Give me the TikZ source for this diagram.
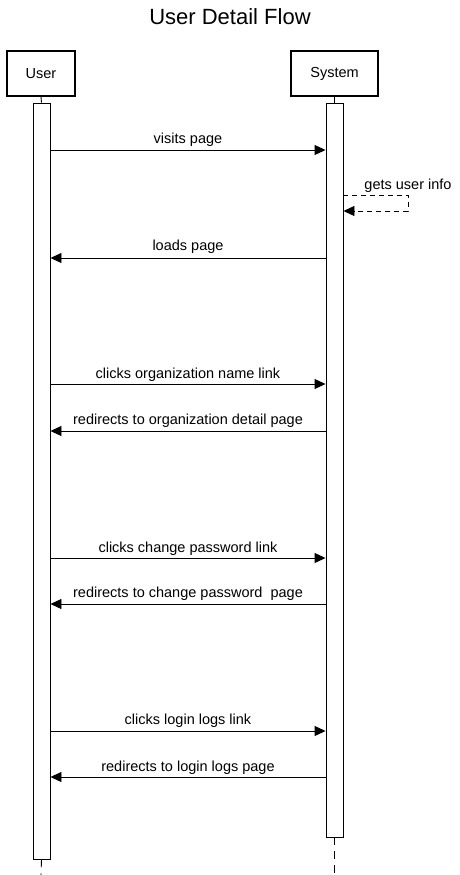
\documentclass[tikz,border=0pt]{standalone}
\usepackage{fontspec}
\setmainfont{Liberation Sans}
\usetikzlibrary{arrows.meta}
\begin{document}
\begin{tikzpicture}[x=1pt,y=-1pt,
  actor/.style={draw, line width=2pt, minimum height=45pt, inner sep=0pt, font=\fontsize{14.5}{17}\selectfont},
  act/.style={draw, line width=0.9pt, fill=white, minimum width=17pt, inner sep=0pt},
  msg/.style={line width=0.9pt, -{Triangle[length=11pt,width=10pt]}},
  rmsg/.style={msg, dash pattern=on 5pt off 4pt},
  lbl/.style={font=\fontsize{14.5}{17}\selectfont, inner sep=0pt, yshift=-2pt},
  life/.style={line width=0.9pt},
  dlife/.style={line width=0.9pt, dash pattern=on 8pt off 6pt}]
\useasboundingbox (0,0) rectangle (460,875);
\node[font=\fontsize{22}{26}\selectfont] (title) at (230,17) {User Detail Flow};
\node[actor, minimum width=68pt] (ubox) at (41,73.5) {\raisebox{-1.5pt}{User}};
\node[actor, minimum width=87pt] (sbox) at (334.5,73.5) {\raisebox{-1.5pt}{System}};
\coordinate (uend) at (41,875);
\coordinate (send) at (334.5,875);
\node[act, minimum height=756pt] (uact) at (41.5,481) {};
\node[act, minimum height=734pt] (sact) at (334.5,470) {};
\draw[life] (ubox.south) -- (uact.north);
\draw[life] (sbox.south) -- (sact.north);
\draw[dlife] (uact.south) -- (uend);
\draw[dlife] (sact.south) -- (send);
% messages
\draw[msg] (uact.east |- 0,150) -- (sact.west |- 0,150);
\node[lbl] (m1) at (188,138) {visits page};
\draw[rmsg] (sact.east |- 0,195) -- ++(65,0) -- ++(0,16) -- (sact.east |- 0,211);
\node[lbl] (m2) at (408,184) {gets user info};
\draw[msg] (sact.west |- 0,258) -- (uact.east |- 0,258);
\node[lbl] (m3) at (188,245) {loads page};
\draw[msg] (uact.east |- 0,384) -- (sact.west |- 0,384);
\node[lbl] (m4) at (188,373) {clicks organization name link};
\draw[msg] (sact.west |- 0,431) -- (uact.east |- 0,431);
\node[lbl] (m5) at (188,419) {redirects to organization detail page};
\draw[msg] (uact.east |- 0,558) -- (sact.west |- 0,558);
\node[lbl] (m6) at (188,547) {clicks change password link};
\draw[msg] (sact.west |- 0,604) -- (uact.east |- 0,604);
\node[lbl] (m7) at (188,592) {redirects to change password\ \ page};
\draw[msg] (uact.east |- 0,731) -- (sact.west |- 0,731);
\node[lbl] (m8) at (188,719) {clicks login logs link};
\draw[msg] (sact.west |- 0,777) -- (uact.east |- 0,777);
\node[lbl] (m9) at (188,766) {redirects to login logs page};
\end{tikzpicture}
\end{document}
